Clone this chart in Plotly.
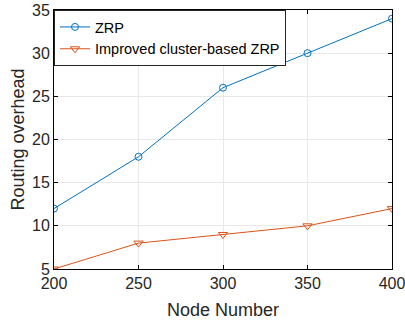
import plotly.graph_objects as go

nodes = [200, 250, 300, 350, 400]
zrp = [12, 18, 26, 30, 34]
improved = [5, 8, 9, 10, 12]
x_ticks = [200, 250, 300, 350, 400]
y_ticks = [5, 10, 15, 20, 25, 30, 35]

fig = go.Figure()
fig.add_trace(go.Scatter(x=nodes, y=zrp, mode="lines+markers", name="ZRP",
                         line=dict(color="#0072BD", width=1),
                         marker=dict(symbol="circle-open", size=7, color="#0072BD", line=dict(width=1))))
fig.add_trace(go.Scatter(x=nodes, y=improved, mode="lines+markers", name="Improved cluster-based ZRP",
                         line=dict(color="#D95319", width=1),
                         marker=dict(symbol="triangle-down-open", size=8, color="#D95319", line=dict(width=1))))

axis_common = dict(showline=True, linecolor="black", linewidth=1, mirror="ticks",
                   ticks="inside", ticklen=4, tickcolor="black", automargin=False,
                   ticklabeloverflow="allow",
                   showgrid=True, gridcolor="#e8e8e8", gridwidth=1, zeroline=False,
                   tickfont=dict(family="Liberation Sans, Arial", size=16, color="#262626"))

fig.update_layout(
    width=405, height=322,
    margin=dict(l=54, r=13, t=10, b=53),
    paper_bgcolor="white", plot_bgcolor="white",
    font=dict(family="Liberation Sans, Arial", color="#262626"),
    xaxis=dict(range=[200, 400], tickvals=x_ticks,
               title=dict(text="Node Number", font=dict(size=18), standoff=12), **axis_common),
    yaxis=dict(range=[5, 35], tickvals=y_ticks,
               title=dict(text="Routing overhead", font=dict(size=18), standoff=2), **axis_common),
    legend=dict(x=0, y=1, xanchor="left", yanchor="top", bgcolor="white",
                bordercolor="#262626", borderwidth=1,
                font=dict(family="Liberation Sans, Arial", size=14.5, color="black"),
                tracegroupgap=0, itemwidth=30),
    showlegend=True,
)
fig.write_html("out.html", config={"displayModeBar": False},
               post_script="document.body.style.margin='0';")
